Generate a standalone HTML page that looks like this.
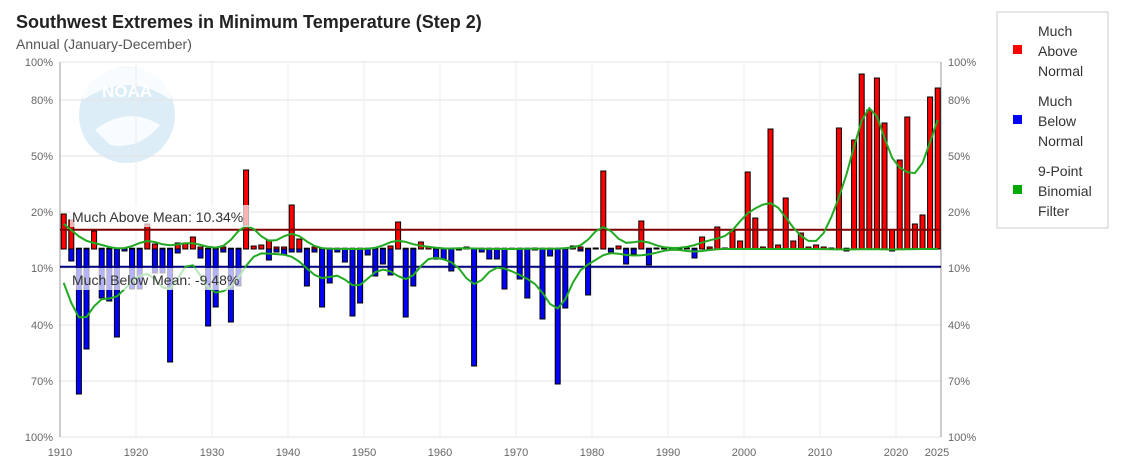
<!DOCTYPE html>
<html><head><meta charset="utf-8"><style>
body{margin:0;background:#fff;width:1130px;height:470px;overflow:hidden;font-family:"Liberation Sans",sans-serif}
</style></head><body>
<svg id="s" width="1130" height="470" xmlns="http://www.w3.org/2000/svg" style="position:absolute;left:0;top:0">
<text x="16" y="28" font-size="18" font-weight="bold" fill="#222">Southwest Extremes in Minimum Temperature (Step 2)</text>
<text x="16" y="49" font-size="14" fill="#555">Annual (January-December)</text>
<circle cx="127" cy="115" r="48" fill="#dcedf7"/>
<path d="M83 100 Q127 70 171 100 L171 80 Q127 55 83 80Z" fill="#fff" opacity="0.8"/>
<path d="M95 130 Q127 105 160 125 Q140 150 110 145Z" fill="#fff" opacity="0.8"/>
<text x="127" y="97" font-size="17" font-weight="bold" fill="#fff" text-anchor="middle">NOAA</text>
<g id="g"></g>
<rect x="997" y="12" width="111" height="216" fill="#fff" stroke="#ccc"/>
<rect x="1013" y="45" width="9" height="9" fill="#f00"/>
<text font-size="14" fill="#333"><tspan x="1038" y="36">Much</tspan><tspan x="1038" y="56">Above</tspan><tspan x="1038" y="76">Normal</tspan></text>
<rect x="1013" y="115" width="9" height="9" fill="#00f"/>
<text font-size="14" fill="#333"><tspan x="1038" y="106">Much</tspan><tspan x="1038" y="126">Below</tspan><tspan x="1038" y="146">Normal</tspan></text>
<rect x="1013" y="185" width="9" height="9" fill="#0a0"/>
<text font-size="14" fill="#333"><tspan x="1038" y="176">9-Point</tspan><tspan x="1038" y="196">Binomial</tspan><tspan x="1038" y="216">Filter</tspan></text>
</svg>
<script>
var R=[35,29,0,0,18,0,0,0,0,0,0,25,5,0,0,6,6,12,2,0,0,2,0,0,79,3,4,9,2,2,44,10,0,2,0,0,0,0,0,0,0,0,0,3,27,0,0,7,2,0,0,0,1,2,0,0,0,0,0,0,0,0,1,0,0,0,0,3,2,0,1,78,0,3,0,0,28,0,1,1,1,1,1,0,12,2,22,1,18,8,77,31,2,120,4,51,8,16,2,4,2,1,121,0,109,175,139,171,126,19,89,132,25,34,152,161];
var B=[0,12,145,100,0,49,52,88,2,40,40,0,24,24,113,4,0,0,9,77,58,3,73,37,0,0,0,11,3,6,3,3,37,3,58,34,3,13,67,54,6,27,15,26,0,68,37,0,0,10,10,22,1,0,117,3,10,10,40,0,30,49,1,70,7,135,59,0,2,46,0,0,3,0,15,5,0,16,0,0,0,0,0,9,0,0,0,0,0,0,0,0,0,0,0,0,0,0,0,0,0,0,0,2,0,0,0,0,0,2,0,0,0,0,0,0];
var Z=249,h='';
function X(i){return 63.7+7.6*i}
[62,100,156,212,268,325,381,437].forEach(function(y){h+='<line x1="60" x2="941" y1="'+y+'" y2="'+y+'" stroke="#e3e3e3"/>';});
for(var yr=1920;yr<=2020;yr+=10){var x=60+(yr-1910)*7.6;h+='<line x1="'+x+'" x2="'+x+'" y1="62" y2="437" stroke="#ececec"/>';}
var L=[[62,'100%'],[100,'80%'],[156,'50%'],[212,'20%'],[268,'10%'],[325,'40%'],[381,'70%'],[437,'100%']];
L.forEach(function(a){h+='<text x="53" y="'+(a[0]+4)+'" font-size="11" fill="#666" text-anchor="end">'+a[1]+'</text><text x="948" y="'+(a[0]+4)+'" font-size="11" fill="#666">'+a[1]+'</text>';});
for(var yr=1910;yr<=2020;yr+=10){h+='<text x="'+(60+(yr-1910)*7.6)+'" y="456" font-size="11" fill="#666" text-anchor="middle">'+yr+'</text>';}
h+='<text x="937" y="456" font-size="11" fill="#666" text-anchor="middle">2025</text>';
h+='<line x1="60" x2="60" y1="62" y2="437" stroke="#999"/><line x1="941" x2="941" y1="62" y2="437" stroke="#999"/>';
for(var i=0;i<116;i++){var x=X(i)-2.5;
 h+='<rect x="'+x+'" y="'+(Z-Math.max(R[i],0.8))+'" width="5" height="'+Math.max(R[i],0.8)+'" fill="#f00" stroke="#000" stroke-width="1"/>';
 if(B[i]>0)h+='<rect x="'+x+'" y="'+Z+'" width="5" height="'+B[i]+'" fill="#00f" stroke="#000" stroke-width="1"/>';}
function sm(a){var w=[1,8,28,56,70,56,28,8,1],o=[];for(var i=0;i<a.length;i++){var s=0,t=0;for(var k=-4;k<=4;k++){var j=i+k;if(j<0||j>=a.length)continue;s+=w[k+4]*a[j];t+=w[k+4];}o.push(s/t);}return o;}
var sr=sm(R),sb=sm(B),p1='',p2='';
for(var i=0;i<116;i++){p1+=(i?'L':'M')+X(i).toFixed(1)+' '+(Z-sr[i]).toFixed(1);p2+=(i?'L':'M')+X(i).toFixed(1)+' '+(Z+sb[i]).toFixed(1);}
h+='<line x1="60" x2="941" y1="229.7" y2="229.7" stroke="#800000" stroke-width="2"/>';
h+='<line x1="60" x2="941" y1="266.7" y2="266.7" stroke="#000080" stroke-width="2"/>';
h+='<path d="'+p1+'" fill="none" stroke="#22aa22" stroke-width="2"/><path d="'+p2+'" fill="none" stroke="#22aa22" stroke-width="2"/>';
h+='<rect x="70" y="205" width="180" height="22" fill="#fff" opacity="0.7"/><text x="72" y="222" font-size="14" fill="#333">Much Above Mean: 10.34%</text>';
h+='<rect x="70" y="268" width="176" height="22" fill="#fff" opacity="0.7"/><text x="72" y="285" font-size="14" fill="#333">Much Below Mean: -9.48%</text>';
document.getElementById('g').innerHTML=h;
</script>
</body></html>
